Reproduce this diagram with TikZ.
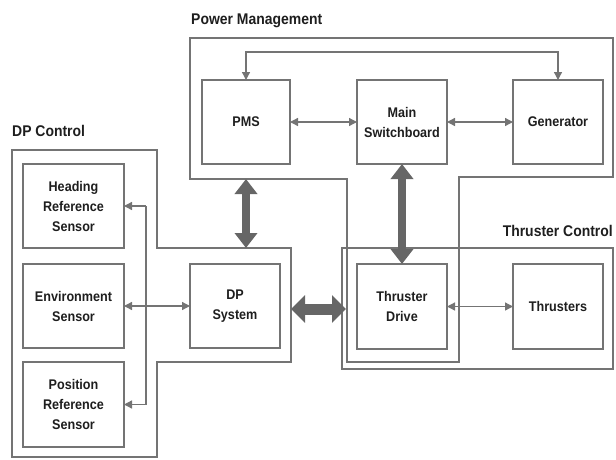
\documentclass[tikz,border=0pt]{standalone}
\usepackage{fontspec}
\setmainfont[FakeStretch=0.9]{Liberation Sans}
\usetikzlibrary{arrows.meta,calc}

\definecolor{linegray}{HTML}{747474}
\definecolor{fatgray}{HTML}{666666}
\definecolor{txt}{HTML}{1E1E1E}

\tikzset{
  unitbox/.style={draw=linegray, line width=1.8pt, minimum width=90pt, minimum height=84pt,
    inner sep=0pt, outer sep=0pt, align=center, text=txt,
    font=\fontsize{14}{20}\selectfont\bfseries},
  grouptitle/.style={text=txt, inner sep=0pt, font=\fontsize{15.5}{17}\selectfont\bfseries},
  groupline/.style={draw=linegray, line width=1.8pt, line join=miter},
  thinlink/.style={draw=linegray, line width=1.3pt,
    {Triangle[length=8pt,width=8pt]}-{Triangle[length=8pt,width=8pt]}},
  thintip/.style={draw=linegray, line width=1.3pt, -{Triangle[length=8pt,width=8pt]}},
  busline/.style={draw=linegray, line width=1.3pt},
  fatlink/.style={draw=fatgray, line width=8pt,
    {Triangle[length=15pt,width=22pt]}-{Triangle[length=15pt,width=22pt]}},
  widelink/.style={draw=fatgray, line width=11pt,
    {Triangle[length=14pt,width=27pt]}-{Triangle[length=14pt,width=27pt]}}
}

\begin{document}
\begin{tikzpicture}[x=1pt, y=-1pt]
\useasboundingbox (0,0) rectangle (616,459);

% group outlines
\draw[groupline] (190,38) -- (613,38) -- (613,177) -- (459,177) -- (459,362)
  -- (347,362) -- (347,179) -- (190,179) -- cycle;
\draw[groupline] (12,150) -- (157,150) -- (157,248) -- (291,248) -- (291,362)
  -- (157,362) -- (157,457) -- (12,457) -- cycle;
\draw[groupline] (342,248) rectangle (613,369);

% group titles
\node[grouptitle, anchor=base west] (tpm) at (191,24) {Power Management};
\node[grouptitle, anchor=base west] (tdp) at (12,136) {DP Control};
\node[grouptitle, anchor=base east] (ttc) at (613,236) {Thruster Control};

% power management units
\node[unitbox, minimum width=88pt] (pms) at (246,122) {PMS};
\node[unitbox] (msb) at (402,122) {Main\\Switchboard};
\node[unitbox] (gen) at (558,122) {Generator};

% DP control units
\node[unitbox, minimum width=101pt] (hrs) at (73.5,206) {Heading\\Reference\\Sensor};
\node[unitbox, minimum width=101pt] (env) at (73.5,306) {Environment\\Sensor};
\node[unitbox, minimum width=101pt, minimum height=85pt] (prs) at (73.5,404.5) {Position\\Reference\\Sensor};
\node[unitbox] (dps) at (235,306) {DP\\System};

% thruster control units
\node[unitbox, minimum height=85pt] (tdr) at (402,306.5) {Thruster\\Drive};
\node[unitbox, minimum height=85pt] (thr) at (558,306.5) {Thrusters};

% thin links
\draw[thinlink] (pms.east) -- (msb.west);
\draw[thinlink] (msb.east) -- (gen.west);
\draw[thinlink] (pms.north) -- ++(0,-28) -| (gen.north);
\draw[thinlink] (env.east) -- (dps.west);
\draw[thinlink] (tdr.east) -- (thr.west);

% sensor bus
\coordinate (bustop) at ($(hrs.east)+(22,0)$);
\coordinate (busbot) at ($(prs.east)+(22,0)$);
\draw[busline] (bustop) -- (busbot);
\draw[thintip] (bustop) -- (hrs.east);
\draw[thintip] (busbot) -- (prs.east);

% heavy links between groups
\coordinate (pmfoot) at (246,179);
\coordinate (dphead) at (246,248);
\coordinate (dpside) at (291,309);
\coordinate (tcside) at (346,309);
\draw[fatlink] (pmfoot) -- (dphead);
\draw[widelink] (dpside) -- (tcside);
\draw[fatlink] (msb.south) -- (tdr.north);
\end{tikzpicture}
\end{document}
